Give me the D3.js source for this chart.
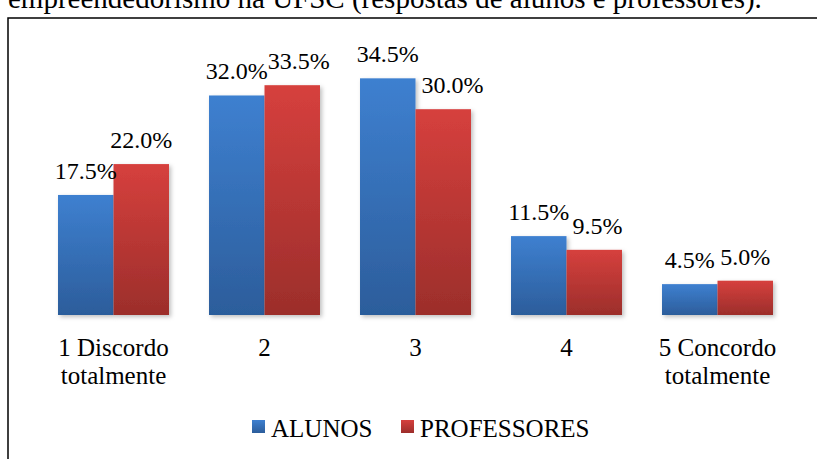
<!DOCTYPE html>
<html>
<head>
<meta charset="utf-8">
<script src="https://cdn.jsdelivr.net/npm/d3@7"></script>
<style>
  html, body { margin: 0; padding: 0; background: #fff; }
  svg { display: block; }
</style>
</head>
<body>
<svg id="chart" width="817" height="459"></svg>
<script>
// Respostas (%) por nível de concordância
const categories = ["1 Discordo\ntotalmente", "2", "3", "4", "5 Concordo\ntotalmente"];
const seriesNames = ["ALUNOS", "PROFESSORES"];
const alunos = [17.5, 32.0, 34.5, 11.5, 4.5];
const professores = [22.0, 33.5, 30.0, 9.5, 5.0];
const valueLabels = [
  ["17.5%", "32.0%", "34.5%", "11.5%", "4.5%"],
  ["22.0%", "33.5%", "30.0%", "9.5%", "5.0%"]
];
const titleText = "empreendedorismo na UFSC (respostas de alunos e professores).";

const FONT = "Liberation Serif";
const svg = d3.select("#chart");

const defs = svg.append("defs");
const grads = [
  { id: "gBlue", top: "#3e80d0", bottom: "#2c5d9b" },
  { id: "gRed", top: "#d6403d", bottom: "#9c2e2b" }
];
grads.forEach(g => {
  const lg = defs.append("linearGradient").attr("id", g.id)
    .attr("x1", 0).attr("y1", 0).attr("x2", 0).attr("y2", 1);
  lg.append("stop").attr("offset", "0%").attr("stop-color", g.top);
  lg.append("stop").attr("offset", "100%").attr("stop-color", g.bottom);
});
const sh = defs.append("filter").attr("id", "shadow")
  .attr("x", "-20%").attr("y", "-20%").attr("width", "150%").attr("height", "150%");
sh.append("feDropShadow").attr("dx", 2).attr("dy", 2).attr("stdDeviation", 2)
  .attr("flood-color", "#000").attr("flood-opacity", 0.25);

function label(sel) {
  return sel.append("text").attr("font-family", FONT).attr("fill", "#000");
}

// caption line above the frame (cut by the top edge)
label(svg).attr("x", 8).attr("y", 8)
  .attr("font-size", 29).text(titleText);

// frame
svg.append("rect").attr("x", 8).attr("y", 18)
  .attr("width", 830).attr("height", 460)
  .attr("fill", "none").attr("stroke", "#000").attr("stroke-width", 1.5);

const plotLeft = 38, plotRight = 793, baseY = 315;
const x0 = d3.scaleBand().domain(d3.range(categories.length))
  .range([plotLeft, plotRight]).paddingInner(0.265).paddingOuter(0.1325);
const x1 = d3.scaleBand().domain([0, 1]).range([0, x0.bandwidth()]);
const y = d3.scaleLinear().domain([0, 40]).range([baseY, baseY - 40 * 6.86]);

const data = [alunos, professores];
const fills = ["url(#gBlue)", "url(#gRed)"];

// bars
const g = svg.append("g");
categories.forEach((c, i) => {
  data.forEach((s, k) => {
    g.append("rect")
      .attr("x", x0(i) + x1(k))
      .attr("y", y(s[i]))
      .attr("width", x1.bandwidth())
      .attr("height", y(0) - y(s[i]))
      .attr("fill", fills[k])
      .attr("filter", "url(#shadow)");
  });
});

// baseline axis
const axis = svg.append("g").attr("transform", `translate(0,${baseY})`)
  .call(d3.axisBottom(x0).tickSize(0).tickFormat(""));
axis.select(".domain").attr("d", `M${plotLeft},0H${plotRight}`)
  .attr("stroke", "#8c8c8c").attr("stroke-width", 2)
  .attr("filter", "url(#shadow)");

// value labels; the second series' label is nudged right when it would
// collide with the first label or run into the neighbouring bar
const LABEL_SIZE = 24, LABEL_GAP = 16, CLEAR = 6;
categories.forEach((c, i) => {
  const texts = data.map((s, k) => label(svg)
    .attr("x", x0(i) + x1(k) + x1.bandwidth() / 2)
    .attr("y", y(s[i]) - LABEL_GAP)
    .attr("text-anchor", "middle")
    .attr("font-size", LABEL_SIZE)
    .text(valueLabels[k][i]));
  const bb = texts.map(t => t.node().getBBox());
  let shift = 0;
  const vOverlap = bb[0].y < bb[1].y + bb[1].height && bb[1].y < bb[0].y + bb[0].height;
  if (vOverlap) shift = Math.max(shift, bb[0].x + bb[0].width - bb[1].x);
  const blueTop = y(data[0][i]);
  if (bb[1].y + bb[1].height > blueTop) {
    const blueRight = x0(i) + x1(0) + x1.bandwidth();
    shift = Math.max(shift, blueRight + CLEAR - bb[1].x);
  }
  if (shift > 0) texts[1].attr("x", +texts[1].attr("x") + shift);
});

// category labels
categories.forEach((c, i) => {
  const lines = c.split("\n");
  const t = label(svg)
    .attr("x", x0(i) + x0.bandwidth() / 2)
    .attr("y", 356)
    .attr("text-anchor", "middle")
    .attr("font-size", 25);
  lines.forEach((ln, j) => {
    t.append("tspan").attr("x", x0(i) + x0.bandwidth() / 2)
      .attr("dy", j === 0 ? 0 : 28).text(ln);
  });
});

// legend
const legend = [
  { name: seriesNames[0], fill: fills[0], x: 252 },
  { name: seriesNames[1], fill: fills[1], x: 401 }
];
legend.forEach(l => {
  svg.append("rect").attr("x", l.x).attr("y", 420)
    .attr("width", 13).attr("height", 13).attr("fill", l.fill);
  label(svg).attr("x", l.x + 19).attr("y", 437)
    .attr("font-size", 25).text(l.name);
});
</script>
</body>
</html>
